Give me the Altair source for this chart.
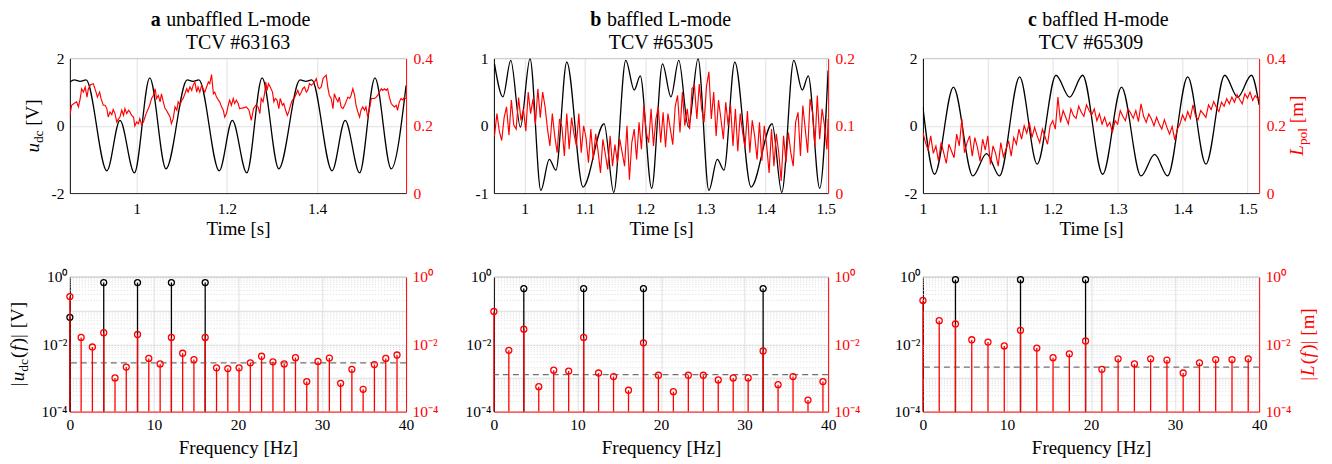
import altair as alt
import pandas as pd

FONT = "Liberation Serif"
RED = "#ff0000"
GRID = "#e0e0e0"
MINOR = "#d2d2d2"
AXC = "#262626"
H = 135
WA, WB, WC = 337, 335, 337
GAP1, GAP2 = 88, 95
LS, TS, HS = 15.5, 19, 20

# ---------------- panel a (time traces) ----------------
a_tb = [0.852, 0.862, 0.875, 0.888, 0.934, 0.963, 0.995, 1.029, 1.065, 1.112, 1.125, 1.138,
        1.183, 1.212, 1.244, 1.278, 1.315, 1.362, 1.375, 1.388, 1.433, 1.462, 1.494, 1.528,
        1.564, 1.597]
a_vb = [1.30, 1.36, 1.32, 1.36, -1.34, 0.16, -1.40, 1.42, -1.28, 1.36, 1.32, 1.36,
        -1.34, 0.16, -1.40, 1.42, -1.28, 1.36, 1.32, 1.36, -1.34, 0.16, -1.40, 1.42,
        -1.28, 1.20]
a_tr = [0.852, 0.856, 0.861, 0.867, 0.871, 0.875, 0.878, 0.882, 0.886, 0.890,
        0.893, 0.898, 0.904, 0.910, 0.913, 0.918, 0.921, 0.926, 0.930, 0.934,
        0.937, 0.941, 0.945, 0.948, 0.952, 0.956, 0.960, 0.963, 0.967, 0.971,
        0.974, 0.978, 0.982, 0.985, 0.989, 0.993, 0.996, 1.000, 1.004, 1.007,
        1.011, 1.015, 1.021, 1.026, 1.030, 1.033, 1.037, 1.041, 1.044, 1.048,
        1.052, 1.055, 1.059, 1.063, 1.066, 1.070, 1.074, 1.077, 1.081, 1.085,
        1.089, 1.092, 1.096, 1.100, 1.103, 1.107, 1.111, 1.114, 1.118, 1.122,
        1.125, 1.129, 1.133, 1.136, 1.140, 1.144, 1.147, 1.151, 1.155, 1.159,
        1.162, 1.166, 1.170, 1.173, 1.177, 1.181, 1.184, 1.188, 1.192, 1.195,
        1.199, 1.203, 1.206, 1.210, 1.214, 1.217, 1.221,
        1.225, 1.228, 1.236, 1.243, 1.249, 1.254, 1.259, 1.264, 1.269, 1.273,
        1.276, 1.280, 1.284, 1.286, 1.289, 1.292, 1.296, 1.301, 1.304, 1.307,
        1.311, 1.315, 1.318, 1.323, 1.326, 1.330, 1.334, 1.337, 1.341, 1.345,
        1.349, 1.352, 1.357, 1.361, 1.365, 1.368, 1.372, 1.376, 1.379, 1.383,
        1.387, 1.391, 1.394, 1.398, 1.402, 1.405, 1.409, 1.413, 1.416, 1.420,
        1.424, 1.427, 1.431, 1.435, 1.438, 1.442, 1.446, 1.449, 1.453, 1.457,
        1.461, 1.464, 1.468, 1.472, 1.475, 1.479, 1.483, 1.486, 1.490, 1.494,
        1.497, 1.501, 1.505, 1.508, 1.512, 1.516, 1.520, 1.523, 1.527, 1.531,
        1.534, 1.538, 1.542, 1.545, 1.549, 1.553, 1.556, 1.560, 1.564, 1.567,
        1.571, 1.575, 1.578, 1.582, 1.586, 1.590, 1.593, 1.597]
a_rr = [0.231, 0.261, 0.266, 0.271, 0.256, 0.281, 0.310, 0.300, 0.315, 0.285,
        0.310, 0.322, 0.325, 0.300, 0.285, 0.300, 0.281, 0.261, 0.261, 0.251,
        0.226, 0.241, 0.233, 0.248, 0.236, 0.211, 0.221, 0.226, 0.246, 0.231,
        0.251, 0.236, 0.246, 0.241, 0.231, 0.226, 0.199, 0.211, 0.206, 0.221,
        0.203, 0.211, 0.236, 0.251, 0.266, 0.281, 0.290, 0.310, 0.281, 0.290,
        0.271, 0.295, 0.271, 0.251, 0.246, 0.236, 0.226, 0.206, 0.221, 0.256,
        0.246, 0.271, 0.261, 0.276, 0.281, 0.295, 0.310, 0.300, 0.315, 0.305,
        0.320, 0.330, 0.300, 0.315, 0.300, 0.320, 0.310, 0.300, 0.315, 0.330,
        0.325, 0.352, 0.295, 0.300, 0.285, 0.276, 0.271, 0.256, 0.246, 0.226,
        0.236, 0.261, 0.276, 0.261, 0.281, 0.266, 0.276,
        0.266, 0.251, 0.253, 0.256, 0.246, 0.216, 0.251, 0.261, 0.256, 0.236,
        0.281, 0.271, 0.300, 0.330, 0.305, 0.325, 0.315, 0.300, 0.271, 0.281,
        0.276, 0.251, 0.281, 0.261, 0.266, 0.246, 0.231, 0.241, 0.261, 0.276,
        0.281, 0.290, 0.305, 0.290, 0.300, 0.310, 0.315, 0.300, 0.305, 0.325,
        0.320, 0.325, 0.330, 0.340, 0.315, 0.310, 0.315, 0.340, 0.345, 0.350,
        0.310, 0.290, 0.281, 0.251, 0.295, 0.281, 0.271, 0.285, 0.256, 0.251,
        0.261, 0.271, 0.285, 0.281, 0.290, 0.310, 0.290, 0.261, 0.241, 0.226,
        0.246, 0.256, 0.246, 0.256, 0.226, 0.251, 0.281, 0.281, 0.281, 0.285,
        0.290, 0.300, 0.310, 0.305, 0.310, 0.305, 0.310, 0.285, 0.266, 0.261,
        0.256, 0.261, 0.246, 0.271, 0.281, 0.276, 0.285, 0.280]

# ---------------- panel b (time traces) ----------------
b_tb = [0.950, 0.964, 0.977, 0.993, 1.009, 1.027, 1.041, 1.052, 1.070, 1.097, 1.132, 1.148,
        1.168, 1.182, 1.192, 1.211, 1.229, 1.243, 1.256, 1.272, 1.288, 1.306, 1.320, 1.331,
        1.349, 1.376, 1.411, 1.427, 1.447, 1.461, 1.471, 1.490, 1.504]
b_vb = [0.92, 0.43, 0.97, -0.02, 0.995, -0.96, -0.50, -0.66, 0.945, -0.91, 0.03, -0.99,
        0.97, 0.53, 0.74, -0.93, 0.92, 0.43, 0.97, -0.02, 0.995, -0.96, -0.50, -0.66,
        0.945, -0.91, 0.03, -0.99, 0.97, 0.53, 0.74, -0.93, 0.82]
b_tr = [0.950, 0.954, 0.958, 0.962, 0.966, 0.970, 0.974, 0.978, 0.982, 0.986,
        0.990, 0.994, 0.998, 1.002, 1.006, 1.010, 1.014, 1.018, 1.022, 1.026,
        1.030, 1.034, 1.038, 1.042, 1.046, 1.050, 1.054, 1.058, 1.062, 1.066,
        1.070, 1.074, 1.078, 1.082, 1.086, 1.090, 1.094, 1.098, 1.102, 1.106,
        1.110, 1.114, 1.118, 1.122, 1.126, 1.130, 1.134, 1.138, 1.142, 1.146,
        1.150, 1.154, 1.158, 1.162, 1.166, 1.170, 1.174, 1.178, 1.182, 1.186,
        1.190, 1.194, 1.198, 1.202, 1.206, 1.210, 1.214, 1.218, 1.222, 1.226,
        1.230, 1.234, 1.238, 1.242, 1.246, 1.250, 1.254, 1.258, 1.262, 1.266,
        1.270, 1.274, 1.278, 1.282, 1.286, 1.290, 1.294, 1.298, 1.302, 1.306,
        1.310, 1.314, 1.318, 1.322, 1.326, 1.330, 1.334, 1.338, 1.342, 1.346,
        1.350, 1.354, 1.358, 1.362, 1.366, 1.370, 1.374, 1.378, 1.382, 1.386,
        1.390, 1.394, 1.398, 1.402, 1.406, 1.410, 1.414, 1.418, 1.422, 1.426,
        1.430, 1.434, 1.438, 1.442, 1.446, 1.450, 1.454, 1.458, 1.462, 1.466,
        1.470, 1.474, 1.478, 1.482, 1.486, 1.490, 1.494, 1.498, 1.502, 1.504]
b_rr = [0.085, 0.118, 0.092, 0.078, 0.112, 0.128, 0.086, 0.138, 0.101, 0.095, 0.142,
        0.108, 0.125, 0.092, 0.150, 0.118, 0.140, 0.102, 0.155, 0.112, 0.150,
        0.128, 0.095, 0.070, 0.118, 0.085, 0.060, 0.110, 0.098, 0.055, 0.118,
        0.065, 0.112, 0.088, 0.070, 0.118, 0.060, 0.100, 0.082, 0.045, 0.095,
        0.050, 0.088, 0.062, 0.030, 0.080, 0.058, 0.035, 0.085, 0.040, 0.072,
        0.045, 0.080, 0.060, 0.040, 0.100, 0.020, 0.075, 0.095, 0.050, 0.105,
        0.065, 0.130, 0.090, 0.075, 0.125, 0.070, 0.110, 0.128, 0.075, 0.120,
        0.068, 0.118, 0.095, 0.072, 0.128, 0.145, 0.090, 0.150, 0.100, 0.125,
        0.095, 0.155, 0.160, 0.110, 0.162, 0.125, 0.105, 0.158, 0.180, 0.110,
        0.150, 0.085, 0.138, 0.110, 0.080, 0.135, 0.100, 0.130, 0.070, 0.125,
        0.062, 0.118, 0.090, 0.068, 0.122, 0.060, 0.108, 0.085, 0.050, 0.105,
        0.048, 0.100, 0.070, 0.030, 0.095, 0.040, 0.088, 0.060, 0.018, 0.085,
        0.045, 0.090, 0.060, 0.040, 0.105, 0.120, 0.055, 0.130, 0.095, 0.060,
        0.140, 0.120, 0.070, 0.145, 0.080, 0.125, 0.100, 0.065, 0.110]

# ---------------- panel c (time traces) ----------------
c_tb = [1.000, 1.018, 1.047, 1.077, 1.098, 1.118, 1.149, 1.176, 1.205, 1.226, 1.246,
        1.277, 1.306, 1.336, 1.357, 1.377, 1.408, 1.436, 1.465, 1.485, 1.506, 1.518]
c_vb = [0.56, -1.44, 1.15, -1.49, -0.83, -1.49, 1.45, -1.14, 1.50, 0.85, 1.50,
        -1.44, 1.15, -1.49, -0.85, -1.49, 1.45, -1.14, 1.50, 0.85, 1.50, 0.62]
c_tr = [1.000, 1.004, 1.008, 1.012, 1.016, 1.020, 1.024, 1.028, 1.032, 1.036,
        1.040, 1.044, 1.048, 1.052, 1.056, 1.060, 1.064, 1.068, 1.072, 1.076,
        1.080, 1.084, 1.088, 1.092, 1.096, 1.100, 1.104, 1.108, 1.112, 1.116,
        1.120, 1.124, 1.128, 1.132, 1.136, 1.140, 1.144, 1.148, 1.152, 1.156,
        1.160, 1.164, 1.168, 1.172, 1.176, 1.180, 1.184, 1.188, 1.192, 1.196,
        1.200, 1.204, 1.208, 1.212, 1.216, 1.220, 1.224, 1.228, 1.232, 1.236,
        1.240, 1.244, 1.248, 1.252, 1.256, 1.260, 1.264, 1.268, 1.272, 1.276,
        1.280, 1.284, 1.288, 1.292, 1.296, 1.300, 1.304, 1.308, 1.312, 1.316,
        1.320, 1.324, 1.328, 1.332, 1.336, 1.340, 1.344, 1.348, 1.352, 1.356,
        1.360, 1.364, 1.368, 1.372, 1.376, 1.380, 1.384, 1.388, 1.392, 1.396,
        1.400, 1.404, 1.408, 1.412, 1.416, 1.420, 1.424, 1.428, 1.432, 1.436,
        1.440, 1.444, 1.448, 1.452, 1.456, 1.460, 1.464, 1.468, 1.472, 1.476,
        1.480, 1.484, 1.488, 1.492, 1.496, 1.500, 1.504, 1.508, 1.512, 1.516,
        1.518]
c_rr = [0.180, 0.150, 0.128, 0.170, 0.118, 0.140, 0.095, 0.150, 0.120, 0.088,
        0.145, 0.125, 0.105, 0.175, 0.140, 0.220, 0.120, 0.150, 0.170, 0.110,
        0.165, 0.135, 0.095, 0.160, 0.128, 0.170, 0.085, 0.140, 0.118, 0.080,
        0.150, 0.108, 0.130, 0.155, 0.110, 0.165, 0.145, 0.190, 0.160, 0.200,
        0.178, 0.210, 0.165, 0.195, 0.170, 0.150, 0.190, 0.168, 0.145, 0.200,
        0.215, 0.190, 0.285, 0.210, 0.245, 0.225, 0.205, 0.250, 0.230, 0.222,
        0.258, 0.240, 0.228, 0.262, 0.245, 0.232, 0.250, 0.215, 0.235, 0.205,
        0.225, 0.198, 0.210, 0.180, 0.215, 0.205, 0.245, 0.228, 0.215, 0.250,
        0.238, 0.222, 0.245, 0.212, 0.265, 0.228, 0.210, 0.235, 0.220, 0.200,
        0.225, 0.205, 0.190, 0.218, 0.195, 0.175, 0.198, 0.158, 0.190, 0.205,
        0.232, 0.215, 0.242, 0.222, 0.262, 0.228, 0.218, 0.245, 0.235, 0.225,
        0.262, 0.248, 0.272, 0.255, 0.242, 0.270, 0.258, 0.280, 0.265, 0.285,
        0.270, 0.292, 0.278, 0.265, 0.295, 0.282, 0.300, 0.275, 0.290, 0.280,
        0.285]

# ---------------- spectra ----------------
a_fr = [0, 1.34, 2.68, 4.03, 5.37, 6.71, 8.05, 9.39, 10.74, 12.08, 13.42, 14.76, 16.1,
        17.45, 18.79, 20.13, 21.47, 22.81, 24.16, 25.5, 26.84, 28.18, 29.52, 30.87,
        32.21, 33.55, 34.89, 36.23, 37.58, 38.92]
a_ar = [0.26, 0.016, 0.0083, 0.022, 0.001, 0.0021, 0.0195, 0.0038, 0.0026, 0.016,
        0.0054, 0.0035, 0.016, 0.002, 0.0019, 0.002, 0.0028, 0.0044, 0.003, 0.0026,
        0.004, 0.00078, 0.0031, 0.0039, 0.00069, 0.0018, 0.00046, 0.0025, 0.0038, 0.0048]
a_fb = [0, 4.03, 8.05, 12.08, 16.1]
a_ab = [0.063, 0.68, 0.68, 0.68, 0.68]
a_noise = 0.0028

b_fr = [0, 1.79, 3.58, 5.37, 7.16, 8.95, 10.74, 12.53, 14.32, 16.11, 17.9, 19.69,
        21.48, 23.27, 25.06, 26.85, 28.64, 30.43, 32.22, 34.01, 35.8, 37.59, 39.38]
b_ar = [0.094, 0.0066, 0.028, 0.00055, 0.0017, 0.0016, 0.016, 0.0014, 0.0011, 0.00043,
        0.011, 0.0012, 0.00039, 0.0012, 0.0012, 0.00087, 0.001, 0.001, 0.0063, 0.00063,
        0.0011, 0.00022, 0.00078]
b_fb = [3.58, 10.74, 17.9, 32.22]
b_ab = [0.45, 0.45, 0.45, 0.45]
b_noise = 0.00125

c_fr = [0, 1.94, 3.87, 5.81, 7.74, 9.68, 11.61, 13.55, 15.48, 17.42, 19.35, 21.29,
        23.22, 25.16, 27.09, 29.03, 30.96, 32.9, 34.83, 36.77, 38.7]
c_ar = [0.2, 0.05, 0.04, 0.0136, 0.0116, 0.0089, 0.026, 0.0077, 0.004, 0.0052, 0.0125,
        0.0018, 0.0037, 0.0026, 0.0037, 0.0034, 0.0014, 0.0028, 0.0035, 0.0035, 0.0037]
c_fb = [3.87, 11.61, 19.35]
c_ab = [0.83, 0.83, 0.83]
c_noise = 0.0021

DECADES = [1e-4, 1e-3, 1e-2, 1e-1, 1]
MINOR_TICKS = [m * 10.0 ** e for e in (-4, -3, -2, -1) for m in range(2, 10)]
LOGLAB = ("datum.value > 0.5 ? '10\u2070' : (datum.value > 0.005 && datum.value < 0.05) ? "
          "'10\u207b\u00b2' : datum.value < 0.0005 ? '10\u207b\u2074' : ''")

ONE = pd.DataFrame({"k": [0]})


def txt(s, x, y, size=TS, color="black", weight="normal", style="normal", angle=0, align="left"):
    return alt.Chart(ONE).mark_text(
        text=s, font=FONT, fontSize=size, color=color, fontWeight=weight,
        fontStyle=style, angle=angle, align=align, baseline="alphabetic",
    ).encode(x=alt.value(x), y=alt.value(y))


def ax(**kw):
    base = dict(labelFont=FONT, labelFontSize=LS, titleFont=FONT, titleFontSize=TS,
                titleFontWeight="normal", titleColor="black", ticks=False,
                labelFlush=False, labelOverlap=False, domainWidth=1)
    base.update(kw)
    return alt.Axis(**base)


def topline(W):
    return alt.Chart(ONE).mark_rule(color="#cccccc", strokeWidth=1).encode(
        x=alt.value(0), x2=alt.value(W), y=alt.value(0))


def top_panel(W, dom, xt, tb, vb, tr, rr, ylim, rlim, yt, rt, extra):
    xs = alt.Scale(domain=dom, nice=False, zero=False)
    xax = ax(values=xt, title="Time [s]", grid=True, gridColor=GRID, domainColor=AXC,
             labelColor="black", labelPadding=8, titlePadding=3, format="~g")
    black = alt.Chart(pd.DataFrame({"t": tb, "v": vb})).mark_line(
        color="black", strokeWidth=1.3, interpolate="monotone", clip=True).encode(
        x=alt.X("t:Q", scale=xs, axis=xax),
        y=alt.Y("v:Q", scale=alt.Scale(domain=ylim, nice=False, zero=False),
                axis=ax(orient="left", values=yt, grid=True, gridColor=GRID, domainColor="black",
                        labelColor="black", labelPadding=6, title=None,
                        labelExpr="(datum.value < 0 ? '-' : '') + abs(datum.value)")))
    red = alt.Chart(pd.DataFrame({"t": tr, "r": rr})).mark_line(
        color=RED, strokeWidth=1.15, clip=True).encode(
        x=alt.X("t:Q", scale=xs, axis=xax),
        y=alt.Y("r:Q", scale=alt.Scale(domain=rlim, nice=False, zero=False),
                axis=ax(orient="right", values=rt, grid=False, domainColor=RED,
                        labelColor=RED, labelPadding=7, title=None, format="~g")))
    return alt.layer(topline(W), black, red, *extra).resolve_scale(y="independent").properties(
        width=W, height=H)


def bot_panel(W, fb, ab, fr, ar, noise, extra):
    xs = alt.Scale(domain=[0, 40], nice=False, zero=False)
    ys = alt.Scale(type="log", domain=[1e-4, 1], nice=False)
    xax = ax(values=[0, 10, 20, 30, 40], title="Frequency [Hz]", grid=True, gridColor=GRID,
             domainColor=RED, labelColor="black", labelPadding=6, titlePadding=5)
    dfb = pd.DataFrame({"f": fb, "a": ab})
    dfr = pd.DataFrame({"f": fr, "a": ar})
    minor = alt.Chart(pd.DataFrame({"m": MINOR_TICKS})).mark_rule(
        color=MINOR, strokeDash=[1, 2], strokeWidth=0.8).encode(
        y=alt.Y("m:Q", scale=ys, axis=None))
    bst = alt.Chart(dfb).mark_rule(color="black", strokeWidth=1.3).encode(
        x=alt.X("f:Q", scale=xs, axis=xax),
        y=alt.Y("a:Q", scale=ys, axis=ax(orient="left", values=DECADES, grid=True, gridColor=GRID,
                                         domainColor="black", labelColor="black", labelPadding=3,
                                         labelExpr=LOGLAB, title=None)),
        y2=alt.datum(1e-4))
    bpt = alt.Chart(dfb).mark_point(shape="circle", filled=False, size=36, strokeWidth=1.3,
                                    color="black", opacity=1).encode(
        x=alt.X("f:Q", scale=xs, axis=xax), y=alt.Y("a:Q", scale=ys, axis=None))
    dash = alt.Chart(pd.DataFrame({"n": [noise]})).mark_rule(
        color="#707070", strokeDash=[6, 4], strokeWidth=1.3).encode(
        y=alt.Y("n:Q", scale=ys, axis=None))
    rst = alt.Chart(dfr).mark_rule(color=RED, strokeWidth=1.3).encode(
        x=alt.X("f:Q", scale=xs, axis=xax),
        y=alt.Y("a:Q", scale=ys, axis=ax(orient="right", values=DECADES, grid=False,
                                         domainColor=RED, labelColor=RED, labelPadding=6,
                                         labelExpr=LOGLAB, title=None)),
        y2=alt.datum(1e-4))
    rpt = alt.Chart(dfr).mark_point(shape="circle", filled=False, size=36, strokeWidth=1.3,
                                    color=RED, opacity=1).encode(
        x=alt.X("f:Q", scale=xs, axis=xax), y=alt.Y("a:Q", scale=ys, axis=None))
    return alt.layer(minor, topline(W), bst, bpt, dash, rst, rpt, *extra).resolve_scale(
        y="independent").properties(width=W, height=H)


def spacer(w):
    return alt.Chart(ONE).mark_point(opacity=0).encode(
        x=alt.X("k:Q", axis=None), y=alt.Y("k:Q", axis=None)).properties(width=w, height=H)


# ---- titles / annotation texts ----
T1, T2 = -32, -9
head_a = [txt("a", 81, T1, size=HS, weight="bold"), txt("unbaffled L-mode", 96.5, T1, size=HS),
          txt("TCV #63163", WA / 2, T2, size=HS, align="center"),
          txt("u", -31, 94.4, style="italic", angle=270),
          txt("dc", -27, 84.9, size=13.5, angle=270),
          txt("[V]", -31, 67.5, angle=270)]
head_b = [txt("b", 96.7, T1, size=HS, weight="bold"), txt("baffled L-mode", 113.3, T1, size=HS),
          txt("TCV #65305", WB / 2, T2, size=HS, align="center")]
head_c = [txt("c", 105.2, T1, size=HS, weight="bold"), txt("baffled H-mode", 119.6, T1, size=HS),
          txt("TCV #65309", WC / 2, T2, size=HS, align="center"),
          txt("L", 381, 97.5, style="italic", angle=270, color=RED),
          txt("pol", 385, 86.9, size=13.5, angle=270, color=RED),
          txt("[m]", 381, 64.9, angle=270, color=RED)]
foot_a = [txt("|", -46, 109.5, angle=270),
          txt("u", -46, 104.5, style="italic", angle=270),
          txt("dc", -42, 95, size=13.5, angle=270),
          txt("(", -46, 81.3, angle=270),
          txt("f", -46, 74, style="italic", angle=270),
          txt(")|", -46, 67.5, angle=270),
          txt("[V]", -46, 51.5, angle=270)]
foot_c = [txt("|", 392, 104, angle=270, color=RED),
          txt("L", 392, 99.2, style="italic", angle=270, color=RED),
          txt("(", 392, 87.6, angle=270, color=RED),
          txt("f", 392, 80.8, style="italic", angle=270, color=RED),
          txt(")|", 392, 74, angle=270, color=RED),
          txt("[m]", 392, 58.9, angle=270, color=RED)]

top_a = top_panel(WA, [0.852, 1.597], [1, 1.2, 1.4], a_tb, a_vb, a_tr, a_rr,
                  [-2, 2], [0, 0.4], [-2, 0, 2], [0, 0.2, 0.4], head_a)
top_b = top_panel(WB, [0.949, 1.504], [1, 1.1, 1.2, 1.3, 1.4, 1.5], b_tb, b_vb, b_tr, b_rr,
                  [-1, 1], [0, 0.2], [-1, 0, 1], [0, 0.1, 0.2], head_b)
top_c = top_panel(WC, [1.0, 1.518], [1, 1.1, 1.2, 1.3, 1.4, 1.5], c_tb, c_vb, c_tr, c_rr,
                  [-2, 2], [0, 0.4], [-2, 0, 2], [0, 0.2, 0.4], head_c)
bot_a = bot_panel(WA, a_fb, a_ab, a_fr, a_ar, a_noise, foot_a)
bot_b = bot_panel(WB, b_fb, b_ab, b_fr, b_ar, b_noise, [])
bot_c = bot_panel(WC, c_fb, c_ab, c_fr, c_ar, c_noise, foot_c)

chart = alt.concat(
    top_a, spacer(GAP1), top_b, spacer(GAP2), top_c,
    bot_a, spacer(GAP1), bot_b, spacer(GAP2), bot_c,
    columns=5, spacing={"row": 84, "column": 0}, bounds="flush", align="each",
).properties(
    padding={"left": 1, "top": 2, "right": 6, "bottom": 3}, background="white"
).configure_view(stroke=None)

chart.save("out.html", embed_options={"renderer": "svg", "actions": False})
